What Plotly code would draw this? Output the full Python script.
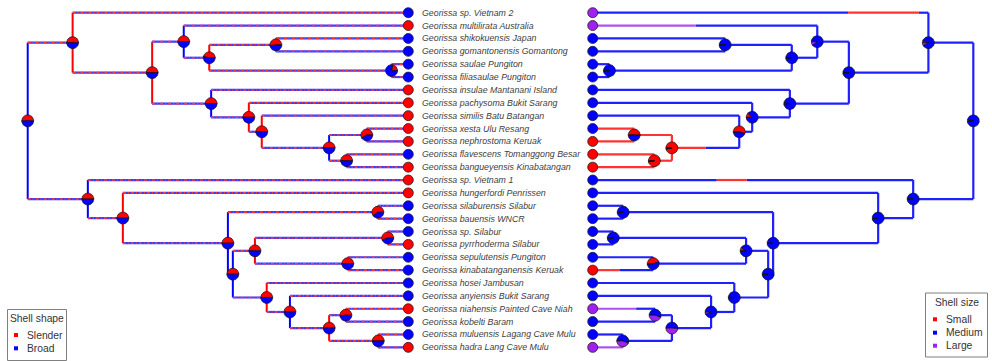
import numpy as np
import plotly.graph_objects as go

W, H = 992, 361

# ---------------- data ----------------
tip_labels = [
    "Georissa sp. Vietnam 2", "Georissa multilirata Australia", "Georissa shikokuensis Japan",
    "Georissa gomantonensis Gomantong", "Georissa saulae Pungiton", "Georissa filiasaulae Pungiton",
    "Georissa insulae Mantanani Island", "Georissa pachysoma Bukit Sarang", "Georissa similis Batu Batangan",
    "Georissa xesta Ulu Resang", "Georissa nephrostoma Keruak", "Georissa flavescens Tomanggong Besar",
    "Georissa bangueyensis Kinabatangan", "Georissa sp. Vietnam 1", "Georissa hungerfordi Penrissen",
    "Georissa silaburensis Silabur", "Georissa bauensis WNCR", "Georissa sp. Silabur",
    "Georissa pyrrhoderma Silabur", "Georissa sepulutensis Pungiton", "Georissa kinabatanganensis Keruak",
    "Georissa hosei Jambusan", "Georissa anyiensis Bukit Sarang", "Georissa niahensis Painted Cave Niah",
    "Georissa kobelti Baram", "Georissa muluensis Lagang Cave Mulu", "Georissa hadra Lang Cave Mulu",
]
shape_tip_state = [
    "Broad", "Slender", "Broad", "Broad", "Broad", "Broad", "Slender", "Slender", "Slender",
    "Slender", "Slender", "Broad", "Slender", "Slender", "Slender", "Broad", "Broad", "Broad",
    "Slender", "Broad", "Broad", "Broad", "Broad", "Slender", "Broad", "Broad", "Slender",
]
size_tip_state = [
    "Large", "Large", "Medium", "Medium", "Medium", "Medium", "Medium", "Medium", "Medium",
    "Medium", "Small", "Small", "Small", "Medium", "Medium", "Medium", "Medium", "Medium",
    "Medium", "Medium", "Small", "Medium", "Medium", "Large", "Medium", "Medium", "Large",
]

node_names = ["R", "A", "B", "C", "D", "E", "F", "G", "H", "I", "J", "K", "L", "M",
              "N", "O", "P", "Q", "S", "T", "U", "V", "W", "X", "Y", "Z"]
node_children = [
    ["A", "B"], ["t0", "C"], ["t13", "N"], ["D", "E"], ["t1", "F"], ["t6", "I"], ["G", "H"],
    ["t2", "t3"], ["t4", "t5"], ["t7", "J"], ["t8", "K"], ["L", "M"], ["t9", "t10"], ["t11", "t12"],
    ["t14", "O"], ["P", "Q"], ["t15", "t16"], ["S", "T"], ["U", "V"], ["t21", "W"], ["t17", "t18"],
    ["t19", "t20"], ["t22", "X"], ["Y", "Z"], ["t23", "t24"], ["t25", "t26"],
]
# distance from root (root-to-tip = 1)
node_depth = [0.000, 0.118, 0.158, 0.327, 0.410, 0.482, 0.477, 0.652, 0.956, 0.581, 0.615, 0.792, 0.891,
              0.838, 0.250, 0.526, 0.920, 0.539, 0.597, 0.628, 0.946, 0.841, 0.689, 0.792, 0.836, 0.921]

# shell shape reconstruction: probability of "Slender" at each node
shape_pie_slender = [0.50, 0.50, 0.50, 0.50, 0.50, 0.50, 0.47, 0.52, 0.22, 0.50, 0.50, 0.50, 0.58,
                     0.50, 0.50, 0.50, 0.60, 0.50, 0.50, 0.50, 0.56, 0.50, 0.50, 0.50, 0.52, 0.50]
shape_vertical_state = ["Broad", "Slender", "Broad", "Slender", "Broad", "Broad", "Slender", "Broad",
                        "Broad", "Slender", "Slender", "Broad", "Broad", "Broad", "Slender", "Broad",
                        "Broad", "Broad", "Slender", "Slender", "Broad", "Slender", "Broad", "Slender",
                        "Slender", "Broad"]

# shell size reconstruction: (Small, Medium, Large)
size_pie = [
    (0.02, 0.97, 0.01), (0.06, 0.86, 0.08), (0.02, 0.97, 0.01), (0.01, 0.98, 0.01), (0.02, 0.88, 0.10),
    (0.03, 0.96, 0.01), (0.01, 0.98, 0.01), (0.01, 0.98, 0.01), (0.01, 0.98, 0.01), (0.12, 0.87, 0.01),
    (0.55, 0.44, 0.01), (0.97, 0.02, 0.01), (0.50, 0.49, 0.01), (0.97, 0.02, 0.01), (0.02, 0.97, 0.01),
    (0.01, 0.98, 0.01), (0.01, 0.98, 0.01), (0.01, 0.98, 0.01), (0.10, 0.89, 0.01), (0.01, 0.97, 0.02),
    (0.01, 0.98, 0.01), (0.45, 0.54, 0.01), (0.01, 0.93, 0.06), (0.01, 0.50, 0.49), (0.01, 0.55, 0.44),
    (0.01, 0.55, 0.44),
]
# stochastic map of shell size on branches (root -> tip), keyed by child; others all "Medium"
size_branch_maps = {
    "t0": [("Medium", 0.025), ("Small", 0.186), ("Medium", 0.671)],
    "t1": [("Medium", 0.319), ("Large", 0.271)],
    "t9": [("Small", 1.0)], "t10": [("Small", 1.0)], "t11": [("Small", 1.0)], "t12": [("Small", 1.0)],
    "L": [("Small", 1.0)], "M": [("Small", 1.0)],
    "K": [("Medium", 0.089), ("Small", 0.088)],
    "t13": [("Medium", 0.437), ("Small", 0.079), ("Medium", 0.326)],
    "t20": [("Medium", 0.089), ("Small", 0.070)],
    "t23": [("Medium", 0.050), ("Large", 0.114)],
    "t26": [("Large", 1.0)],
}

shape_legend_labels = ["Slender", "Broad"]
size_legend_labels = ["Small", "Medium", "Large"]

shape_colors = {"Slender": "#FF0000", "Broad": "#0000FF"}
size_colors = {"Small": "#FF0000", "Medium": "#0000FF", "Large": "#A020F0"}
size_line_colors = {"Small": "#FF3333", "Medium": "#2020FF", "Large": "#B050F0"}

# ---------------- layout helpers ----------------
left_x_range = [-0.0728, 2.5337]
right_x_range = [2.5573, -0.0491]
y_range = [27.06, -0.987]
sx = W / (left_x_range[1] - left_x_range[0])      # px per depth unit
sy = H / (y_range[0] - y_range[1])                # px per tip step (downwards)

idx = {n: i for i, n in enumerate(node_names)}
node_y = [None] * len(node_names)


def cy(c):
    if c.startswith("t"):
        return float(int(c[1:]))
    i = idx[c]
    if node_y[i] is None:
        ch = node_children[i]
        node_y[i] = (cy(ch[0]) + cy(ch[-1])) / 2.0
    return node_y[i]


def cdepth(c):
    return 1.0 if c.startswith("t") else node_depth[idx[c]]


for n in node_names:
    cy(n)

fig = go.Figure()


def add_lines(xs, ys, color, axis, width=2.0, dash=None):
    fig.add_trace(go.Scatter(x=xs, y=ys, mode="lines", xaxis=axis, yaxis="y",
                             line=dict(color=color, width=width, dash=dash),
                             hoverinfo="skip", showlegend=False))


# ---------------- left tree (shell shape) ----------------
vert = {s: ([], []) for s in shape_colors}
hx, hy = [], []
for i, n in enumerate(node_names):
    ch = node_children[i]
    d = node_depth[i]
    s = shape_vertical_state[i]
    vert[s][0].extend([d, d, None])
    vert[s][1].extend([cy(ch[0]), cy(ch[-1]), None])
    for c in ch:
        hx.extend([d, cdepth(c), None])
        hy.extend([cy(c), cy(c), None])
for s, (xs, ys) in vert.items():
    add_lines(xs, ys, shape_colors[s], "x", 2.0)
add_lines(hx, hy, "#3a3aff", "x", 2.2)
add_lines(hx, hy, "#ff3a3a", "x", 1.6, dash="3px,2px,1px,2px")

# ---------------- right tree (shell size) ----------------
seg = {s: ([], []) for s in size_colors}
for i, n in enumerate(node_names):
    ch = node_children[i]
    d = node_depth[i]
    first_map = size_branch_maps.get(ch[0], [("Medium", 1.0)])
    s0 = first_map[0][0]
    seg[s0][0].extend([d, d, None])
    seg[s0][1].extend([cy(ch[0]), cy(ch[-1]), None])
    for c in ch:
        m = size_branch_maps.get(c, [("Medium", 1.0)])
        total = sum(v for _, v in m)
        blen = cdepth(c) - d
        pos = d
        for st, v in m:
            nxt = pos + blen * v / total
            seg[st][0].extend([pos, nxt, None])
            seg[st][1].extend([cy(c), cy(c), None])
            pos = nxt
for st in ["Medium", "Small", "Large"]:
    xs, ys = seg[st]
    add_lines(xs, ys, size_line_colors[st], "x2", 2.2)

# ---------------- pies ----------------
R_PIE = 6.0


def pie_traces(axis, fracs_list, states, colors):
    polys = {s: ([], []) for s in states}
    for i, fr in enumerate(fracs_list):
        cx_, cy_ = node_depth[i], node_y[i]
        a = 0.0
        for s, f in zip(states, fr):
            if f <= 0:
                continue
            a1 = a + 2 * np.pi * f
            npts = max(3, int(60 * f) + 2)
            th = np.linspace(a, a1, npts)
            xs = [cx_] + list(cx_ + R_PIE * np.cos(th) / sx) + [cx_, None]
            ys = [cy_] + list(cy_ - R_PIE * np.sin(th) / sy) + [cy_, None]
            polys[s][0].extend(xs)
            polys[s][1].extend(ys)
            a = a1
    for s in states:
        xs, ys = polys[s]
        fig.add_trace(go.Scatter(x=xs, y=ys, mode="lines", fill="toself", fillcolor=colors[s],
                                 line=dict(color="#111111", width=0.7), xaxis=axis, yaxis="y",
                                 hoverinfo="skip", showlegend=False))


pie_traces("x", [(p, 1 - p) for p in shape_pie_slender], ["Slender", "Broad"], shape_colors)
pie_traces("x2", size_pie, ["Small", "Medium", "Large"], size_colors)

# ---------------- tips ----------------
tip_y = list(range(len(tip_labels)))
fig.add_trace(go.Scatter(x=[1.0] * len(tip_y), y=tip_y, mode="markers", xaxis="x", yaxis="y",
                         marker=dict(size=10, color=[shape_colors[s] for s in shape_tip_state],
                                     line=dict(color="#222222", width=0.8)),
                         hoverinfo="skip", showlegend=False))
fig.add_trace(go.Scatter(x=[1.0] * len(tip_y), y=tip_y, mode="markers", xaxis="x2", yaxis="y",
                         marker=dict(size=10, color=[size_colors[s] for s in size_tip_state],
                                     line=dict(color="#222222", width=0.8)),
                         hoverinfo="skip", showlegend=False))

annotations = []
for i, lab in enumerate(tip_labels):
    annotations.append(dict(x=1.0, y=i, xref="x", yref="y", text=lab, showarrow=False,
                            xanchor="left", yanchor="middle", xshift=12,
                            font=dict(family="Liberation Sans", size=8.8, color="#404040",
                                      style="italic")))

# ---------------- legends ----------------
shapes = []


def px2paper(x, y):
    return x / W, 1 - y / H


def legend_box(x0, y0, x1, y1, title, tx, ty, labels, colors, sqx, item_y, textx):
    a, b = px2paper(x0, y0)
    c, d = px2paper(x1, y1)
    shapes.append(dict(type="rect", xref="paper", yref="paper", x0=a, y0=d, x1=c, y1=b,
                       line=dict(color="#808080", width=1), fillcolor="white", layer="above"))
    px_, py_ = px2paper(tx, ty)
    annotations.append(dict(x=px_, y=py_, xref="paper", yref="paper", text=title, showarrow=False,
                            xanchor="center", yanchor="middle",
                            font=dict(family="Liberation Sans", size=10.3, color="#333333")))
    for lab, col, iy in zip(labels, colors, item_y):
        qa, qb = px2paper(sqx - 2, iy - 2)
        qc, qd = px2paper(sqx + 2, iy + 2)
        shapes.append(dict(type="rect", xref="paper", yref="paper", x0=qa, y0=qd, x1=qc, y1=qb,
                           line=dict(width=0), fillcolor=col, layer="above"))
        lx, ly = px2paper(textx, iy)
        annotations.append(dict(x=lx, y=ly, xref="paper", yref="paper", text=lab, showarrow=False,
                                xanchor="left", yanchor="middle",
                                font=dict(family="Liberation Sans", size=10.3, color="#333333")))


legend_box(7.5, 309.5, 66.5, 360.5, "Shell shape", 36.5, 318.5, shape_legend_labels,
           [shape_colors[s] for s in shape_legend_labels], 16, [335, 348.3], 25)
legend_box(925.5, 293, 987.5, 357, "Shell size", 956.5, 302.5, size_legend_labels,
           [size_colors[s] for s in size_legend_labels], 935, [319.3, 332.7, 345.7], 944)

hidden = dict(visible=False, showgrid=False, zeroline=False, fixedrange=True)
fig.update_layout(
    width=W, height=H, margin=dict(l=0, r=0, t=0, b=0),
    paper_bgcolor="white", plot_bgcolor="white",
    xaxis=dict(range=left_x_range, domain=[0, 1], **hidden),
    xaxis2=dict(range=right_x_range, domain=[0, 1], overlaying="x", **hidden),
    yaxis=dict(range=y_range, domain=[0, 1], **hidden),
    annotations=annotations, shapes=shapes, showlegend=False,
)

fig.write_html("out.html", config={"displayModeBar": False, "staticPlot": True},
               post_script="document.body.style.margin='0px';document.body.style.overflow='hidden';")
